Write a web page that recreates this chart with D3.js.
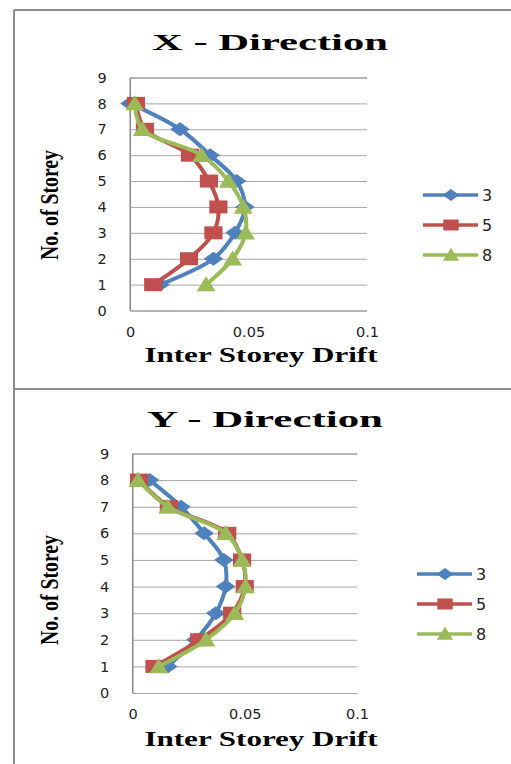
<!DOCTYPE html>
<html>
<head>
<meta charset="utf-8">
<script src="https://cdn.jsdelivr.net/npm/d3@7"></script>
<style>
  html, body { margin: 0; padding: 0; background: #fff; }
  svg { display: block; }
</style>
</head>
<body>
<svg id="chart" width="511" height="764"></svg>
<script>
// Storey numbers and drift values per building height (3, 5 and 8 storey models)
const storeys = [1, 2, 3, 4, 5, 6, 7, 8];
const seriesNames = ["3", "5", "8"];
const xTicks = [0, 0.05, 0.1];
const xTickLabels = ["0", "0.05", "0.1"];
const yTicks = [0, 1, 2, 3, 4, 5, 6, 7, 8, 9];

// X - Direction drift
const xDir3 = [0.0127, 0.0352, 0.0443, 0.0485, 0.0450, 0.0338, 0.0211, 0.0000];
const xDir5 = [0.0098, 0.0249, 0.0352, 0.0373, 0.0333, 0.0253, 0.0063, 0.0025];
const xDir8 = [0.0321, 0.0433, 0.0488, 0.0478, 0.0415, 0.0302, 0.0052, 0.0020];

// Y - Direction drift
const yDir3 = [0.0157, 0.0282, 0.0371, 0.0415, 0.0407, 0.0319, 0.0216, 0.0076];
const yDir5 = [0.0098, 0.0297, 0.0444, 0.0500, 0.0488, 0.0422, 0.0162, 0.0029];
const yDir8 = [0.0117, 0.0327, 0.0456, 0.0503, 0.0488, 0.0415, 0.0157, 0.0025];

const colors = ["#4F81BD", "#C0504D", "#9BBB59"];

// Marker shapes: size is the half-height of the shape
const diamond = { draw(ctx, r) { ctx.moveTo(0, -r); ctx.lineTo(r, 0); ctx.lineTo(0, r); ctx.lineTo(-r, 0); ctx.closePath(); } };
const square = { draw(ctx, r) { ctx.rect(-r, -r, 2 * r, 2 * r); } };
const triangle = { draw(ctx, r) { ctx.moveTo(0, -r * 1.1); ctx.lineTo(r * 0.9, r * 0.9); ctx.lineTo(-r * 0.9, r * 0.9); ctx.closePath(); } };
const symbols = [diamond, square, triangle];
const symbolSizes = [7, 6.5, 7.5];
const markerStretch = 1.4;

const svg = d3.select("#chart");

// Frame lines around the two panels
const frame = svg.append("g").attr("stroke", "#8c8c8c").attr("stroke-width", 2).attr("fill", "none");
frame.append("line").attr("x1", 14).attr("x2", 14).attr("y1", 10).attr("y2", 764);
frame.append("line").attr("x1", 14).attr("x2", 511).attr("y1", 10).attr("y2", 10);
frame.append("line").attr("x1", 14).attr("x2", 511).attr("y1", 389).attr("y2", 389);

function drawPanel(cfg) {
  const g = svg.append("g");
  const x = d3.scaleLinear().domain([0, 0.1]).range([cfg.left, cfg.right]);
  const y = d3.scaleLinear().domain([0, 9]).range([cfg.bottom, cfg.top]);

  // Horizontal gridlines from the storey axis
  const yAxis = d3.axisLeft(y).tickValues(yTicks).tickSize(-(cfg.right - cfg.left)).tickFormat(d3.format("d"));
  const ya = g.append("g").attr("transform", `translate(${cfg.left},0)`).call(yAxis);
  ya.select(".domain").attr("stroke", "#868686");
  ya.selectAll(".tick line").attr("stroke", "#a6a6a6").attr("stroke-width", 1);
  ya.selectAll(".tick text")
    .attr("x", -28).attr("text-anchor", "middle")
    .attr("font-family", "DejaVu Sans").attr("font-size", 14.5).attr("fill", "#222");
  g.append("line").attr("x1", cfg.left).attr("x2", cfg.left)
    .attr("y1", cfg.top).attr("y2", cfg.bottom).attr("stroke", "#868686");

  // Drift axis labels
  const xAxis = d3.axisBottom(x).tickValues(xTicks).tickSize(0)
    .tickFormat((d, i) => xTickLabels[i]);
  const xa = g.append("g").attr("transform", `translate(0,${cfg.bottom})`).call(xAxis);
  xa.select(".domain").remove();
  xa.selectAll(".tick text")
    .attr("y", cfg.xLabelDy).attr("dy", 0)
    .attr("font-family", "DejaVu Sans").attr("font-size", 14.5).attr("fill", "#222");

  // Titles
  g.append("text").attr("x", cfg.titleX).attr("y", cfg.titleY)
    .attr("text-anchor", "middle").attr("font-family", "Liberation Serif")
    .attr("font-weight", "bold").attr("font-size", 24)
    .attr("textLength", 236).attr("lengthAdjust", "spacingAndGlyphs")
    .text(cfg.title);
  g.append("text").attr("x", cfg.xTitleX).attr("y", cfg.xTitleY)
    .attr("text-anchor", "middle").attr("font-family", "Liberation Serif")
    .attr("font-weight", "bold").attr("font-size", 20)
    .attr("textLength", 233).attr("lengthAdjust", "spacingAndGlyphs")
    .text("Inter Storey Drift");
  g.append("text")
    .attr("transform", `translate(58,${cfg.yTitleY}) rotate(-90)`)
    .attr("text-anchor", "middle").attr("font-family", "Liberation Serif")
    .attr("font-weight", "bold").attr("font-size", 26)
    .attr("textLength", 110).attr("lengthAdjust", "spacingAndGlyphs")
    .text("No. of Storey");

  // Smoothed drift profiles with markers
  const line = d3.line()
    .x(d => x(d.v)).y(d => y(d.s))
    .curve(d3.curveCatmullRom.alpha(0.5));
  cfg.series.forEach((vals, k) => {
    const pts = storeys.map((s, i) => ({ s, v: vals[i] }));
    g.append("path").datum(pts)
      .attr("fill", "none").attr("stroke", colors[k]).attr("stroke-width", 4)
      .attr("stroke-linejoin", "round")
      .attr("d", line);
    g.append("g").selectAll("path").data(pts).join("path")
      .attr("transform", d => `translate(${x(d.v)},${y(d.s)}) scale(${markerStretch},1)`)
      .attr("d", d3.symbol().type(symbols[k]).size(symbolSizes[k]))
      .attr("fill", colors[k]);
  });

  // Legend
  const lg = g.append("g");
  seriesNames.forEach((name, k) => {
    const ly = cfg.legendY + k * 30;
    lg.append("line").attr("x1", cfg.legendX).attr("x2", cfg.legendX + 55)
      .attr("y1", ly).attr("y2", ly).attr("stroke", colors[k]).attr("stroke-width", 3.5);
    lg.append("path")
      .attr("transform", `translate(${cfg.legendX + 28},${ly}) scale(${markerStretch},1)`)
      .attr("d", d3.symbol().type(symbols[k]).size(symbolSizes[k] - 1))
      .attr("fill", colors[k]);
    lg.append("text").attr("x", cfg.legendX + 59).attr("y", ly + 6)
      .attr("font-family", "DejaVu Sans").attr("font-size", 16).attr("fill", "#222")
      .text(name);
  });
}

drawPanel({
  left: 130, right: 367, top: 77.5, bottom: 310.5,
  xLabelDy: 26.5, title: "X - Direction", titleX: 270, titleY: 50,
  xTitleX: 261, xTitleY: 362, yTitleY: 205,
  series: [xDir3, xDir5, xDir8],
  legendX: 423, legendY: 195
});

drawPanel({
  left: 132.5, right: 357, top: 453.5, bottom: 693,
  xLabelDy: 26, title: "Y - Direction", titleX: 265, titleY: 427,
  xTitleX: 261, xTitleY: 746, yTitleY: 590,
  series: [yDir3, yDir5, yDir8],
  legendX: 417, legendY: 574
});
</script>
</body>
</html>
